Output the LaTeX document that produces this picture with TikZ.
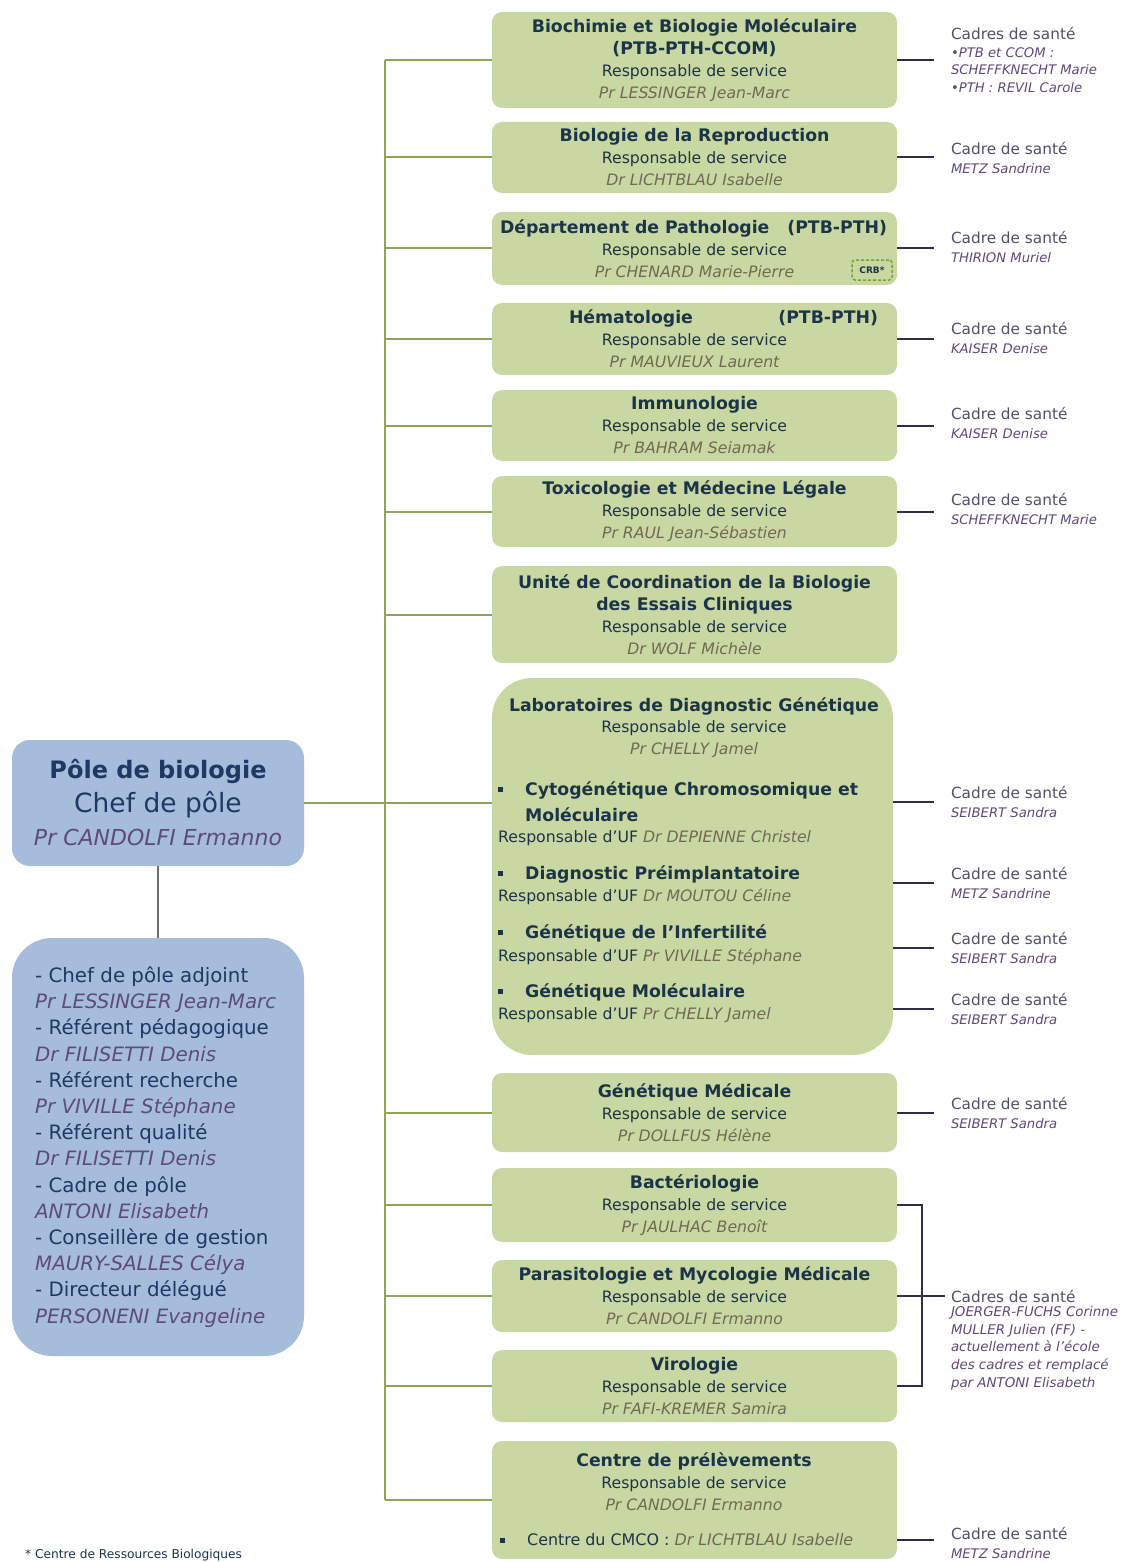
\documentclass[tikz,border=0pt]{standalone}
\usepackage{fontspec}
\setmainfont{DejaVu Sans}
\definecolor{gfill}{RGB}{201,216,162}
\definecolor{bfill}{RGB}{165,188,219}
\definecolor{ttlc}{RGB}{28,52,72}
\definecolor{gname}{RGB}{112,106,84}
\definecolor{bname}{RGB}{96,74,123}
\definecolor{navyc}{RGB}{31,56,100}
\definecolor{trunkc}{RGB}{140,165,90}
\definecolor{rconc}{RGB}{46,46,72}
\definecolor{cadc}{RGB}{80,80,105}
\definecolor{cadn}{RGB}{95,73,122}
\definecolor{crbc}{RGB}{120,165,50}
\definecolor{vlinec}{RGB}{110,110,110}
\newcommand{\gT}[1]{{\fontsize{17.3}{22}\selectfont\bfseries #1}}
\newcommand{\gN}[1]{{\color{gname}\itshape #1}}
\newcommand{\gR}{Responsable de service}
\newcommand{\cN}[1]{{\fontsize{13.2}{17.7}\selectfont\itshape\color{cadn}#1}}
\newcommand{\bN}[1]{{\color{bname}\itshape #1}}
\newcommand{\sqb}{\raisebox{3pt}{\rule{5pt}{5pt}}}
\tikzset{
  gbox/.style={fill=gfill, rounded corners=10pt, minimum width=405pt, align=center, inner sep=0pt, text=ttlc, font=\fontsize{15.7}{22}\selectfont},
  bbox/.style={fill=bfill, rounded corners=18pt, minimum width=292pt, align=center, inner sep=0pt},
  gtxt/.style={align=center, inner sep=0pt, text=ttlc, font=\fontsize{15.7}{22}\selectfont},
  uf/.style={anchor=west, inner sep=0pt, text=ttlc, font=\fontsize{17.3}{22}\selectfont\bfseries},
  ufr/.style={anchor=west, inner sep=0pt, text=ttlc, font=\fontsize{15.7}{18}\selectfont},
  cadre/.style={anchor=west, align=left, inner sep=0pt, outer xsep=17pt, text=cadc, font=\fontsize{15.3}{18.5}\selectfont},
  trunk/.style={draw=trunkc, line width=2pt},
  rconn/.style={draw=rconc, line width=2pt},
}
\begin{document}
\begin{tikzpicture}[x=1pt,y=-1pt]
\fill[white] (0,0) rectangle (1122,1562);
\useasboundingbox (0,0) rectangle (1122,1562);

% ---------- left boxes ----------
\node[bbox, minimum height=126pt, font=\fontsize{24}{33.5}\selectfont] (pole) at (158,803)
  {{\bfseries\color{navyc}Pôle de biologie}\\
   {\fontsize{26.5}{33.5}\selectfont\color{navyc}Chef de pôle}\\
   {\fontsize{22}{33.5}\selectfont\bN{Pr CANDOLFI Ermanno}}};
\node[bbox, minimum height=418pt, rounded corners=40pt] (adj) at (158,1147) {};
\node[anchor=west, align=left, inner sep=0pt, text=navyc, font=\fontsize{19.8}{26.2}\selectfont] (adjt) at (35,1147)
  {- Chef de pôle adjoint\\ \bN{Pr LESSINGER Jean-Marc}\\
   - Référent pédagogique\\ \bN{Dr FILISETTI Denis}\\
   - Référent recherche\\ \bN{Pr VIVILLE Stéphane}\\
   - Référent qualité\\ \bN{Dr FILISETTI Denis}\\
   - Cadre de pôle\\ \bN{ANTONI Elisabeth}\\
   - Conseillère de gestion\\ \bN{MAURY-SALLES Célya}\\
   - Directeur délégué\\ \bN{PERSONENI Evangeline}};

% ---------- green boxes ----------
\node[gbox, minimum height=96pt] (b1) at (694.5,60)
  {\gT{Biochimie et Biologie Moléculaire}\\\gT{(PTB-PTH-CCOM)}\\\gR\\\gN{Pr LESSINGER Jean-Marc}};
\node[gbox, minimum height=71pt] (b2) at (694.5,157.5)
  {\gT{Biologie de la Reproduction}\\\gR\\\gN{Dr LICHTBLAU Isabelle}};
\node[gbox, minimum height=73pt] (b3) at (694.5,248.5)
  {\gT{\makebox[390pt][s]{\hspace{0.5pt}Département de Pathologie\hfill(PTB-PTH)\hspace{2.5pt}}}\\\gR\\\gN{Pr CHENARD Marie-Pierre}};
\node[draw=crbc, dashed, dash pattern=on 3pt off 2pt, line width=1.5pt, rounded corners=3pt, minimum width=40pt, minimum height=20pt, inner sep=0pt, font=\fontsize{9}{10}\selectfont\bfseries, text=ttlc] (crb) at (872,270) {CRB*};
\node[gbox, minimum height=72pt] (b4) at (694.5,339)
  {\gT{\makebox[390pt][s]{\hspace{69.5pt}Hématologie\hfill(PTB-PTH)\hspace{11.5pt}}}\\\gR\\\gN{Pr MAUVIEUX Laurent}};
\node[gbox, minimum height=71pt] (b5) at (694.5,425.5)
  {\gT{Immunologie}\\\gR\\\gN{Pr BAHRAM Seiamak}};
\node[gbox, minimum height=71pt] (b6) at (694.5,511.5)
  {\gT{Toxicologie et Médecine Légale}\\\gR\\\gN{Pr RAUL Jean-Sébastien}};
\node[gbox, minimum height=97pt] (b7) at (694.5,614.5)
  {\gT{Unité de Coordination de la Biologie}\\\gT{des Essais Cliniques}\\\gR\\\gN{Dr WOLF Michèle}};

% Laboratoires
\node[gbox, minimum width=401pt, minimum height=377pt, rounded corners=40pt] (labs) at (692.5,866.5) {};
\node[gtxt] (lt) at (694,706) {\gT{Laboratoires de Diagnostic Génétique}};
\node[gtxt] (lr) at (694,739.5) {\gR\\\gN{Pr CHELLY Jamel}};
\node[uf] (u1a) at (498,790) {\sqb\hspace{22pt}Cytogénétique Chromosomique et};
\node[uf] (u1b) at (525,815) {Moléculaire};
\node[ufr] (u1r) at (498,838) {Responsable d'UF \gN{Dr DEPIENNE Christel}};
\node[uf] (u2a) at (498,874) {\sqb\hspace{22pt}Diagnostic Préimplantatoire};
\node[ufr] (u2r) at (498,897) {Responsable d'UF \gN{Dr MOUTOU Céline}};
\node[uf] (u3a) at (498,933) {\sqb\hspace{22pt}Génétique de l'Infertilité};
\node[ufr] (u3r) at (498,957) {Responsable d'UF \gN{Pr VIVILLE Stéphane}};
\node[uf] (u4a) at (498,992) {\sqb\hspace{22pt}Génétique Moléculaire};
\node[ufr] (u4r) at (498,1015) {Responsable d'UF \gN{Pr CHELLY Jamel}};

\node[gbox, minimum height=79pt] (b9) at (694.5,1112.5)
  {\gT{Génétique Médicale}\\\gR\\\gN{Pr DOLLFUS Hélène}};
\node[gbox, minimum height=74pt] (b10) at (694.5,1205)
  {\gT{Bactériologie}\\\gR\\\gN{Pr JAULHAC Benoît}};
\node[gbox, minimum height=72pt] (b11) at (694.5,1296)
  {\gT{Parasitologie et Mycologie Médicale}\\\gR\\\gN{Pr CANDOLFI Ermanno}};
\node[gbox, minimum height=72pt] (b12) at (694.5,1386)
  {\gT{Virologie}\\\gR\\\gN{Pr FAFI-KREMER Samira}};
\node[gbox, minimum height=118pt] (b13) at (694.5,1500) {};
\node[gtxt] (b13t) at (694,1481.5) {\gT{Centre de prélèvements}\\\gR\\\gN{Pr CANDOLFI Ermanno}};
\node[anchor=west, inner sep=0pt, text=ttlc, font=\fontsize{15.9}{20}\selectfont] (b13u) at (500,1540)
  {\sqb\hspace{22pt}Centre du CMCO : \gN{Dr LICHTBLAU Isabelle}};

% ---------- cadres ----------
\node[cadre, font=\fontsize{15.3}{17.7}\selectfont] (c1) at (934,60)
  {Cadres de santé\\\cN{\textbullet PTB et CCOM :}\\\cN{SCHEFFKNECHT Marie}\\\cN{\textbullet PTH : REVIL Carole}};
\node[cadre] (c2) at (934,158) {Cadre de santé\\\cN{METZ Sandrine}};
\node[cadre] (c3) at (934,247) {Cadre de santé\\\cN{THIRION Muriel}};
\node[cadre] (c4) at (934,338) {Cadre de santé\\\cN{KAISER Denise}};
\node[cadre] (c5) at (934,423) {Cadre de santé\\\cN{KAISER Denise}};
\node[cadre] (c6) at (934,509) {Cadre de santé\\\cN{SCHEFFKNECHT Marie}};
\node[cadre] (cu1) at (934,802) {Cadre de santé\\\cN{SEIBERT Sandra}};
\node[cadre] (cu2) at (934,883) {Cadre de santé\\\cN{METZ Sandrine}};
\node[cadre] (cu3) at (934,948) {Cadre de santé\\\cN{SEIBERT Sandra}};
\node[cadre] (cu4) at (934,1009) {Cadre de santé\\\cN{SEIBERT Sandra}};
\node[cadre] (c9) at (934,1113) {Cadre de santé\\\cN{SEIBERT Sandra}};
\node[cadre, outer xsep=6pt] (c11) at (945,1296) {Cadres de santé};
\node[cadre, anchor=north west, outer xsep=0pt, font=\fontsize{13.4}{17.7}\selectfont\itshape, text=cadn] (c11b) at (951,1306)
  {JOERGER-FUCHS Corinne\\MULLER Julien (FF) -\\actuellement à l'école\\des cadres et remplacé\\par ANTONI Elisabeth};
\node[cadre] (c13) at (934,1543) {Cadre de santé\\\cN{METZ Sandrine}};

\node[anchor=west, inner sep=0pt, text=ttlc, font=\fontsize{12.2}{13}\selectfont] (fn) at (25,1555) {* Centre de Ressources Biologiques};

% ---------- connectors ----------
\coordinate (tx) at (385,0);
\coordinate (bkx) at (922,0);
\draw[trunk] (tx |- b1.west) -- (tx |- b13.west);
\foreach \b in {b1,b2,b3,b4,b5,b6,b7,b9,b10,b11,b12,b13}
  \draw[trunk] (tx |- \b.west) -- (\b.west);
\draw[trunk] (pole.east) -- (labs.west |- pole.east);
\draw[draw=vlinec, line width=1.5pt] (pole.south) -- (adj.north);

\foreach \b/\c in {b1/c1,b2/c2,b3/c3,b4/c4,b5/c5,b6/c6,b9/c9}
  \draw[rconn] (\b.east) -- (\b.east -| \c.west);
\foreach \c in {cu1,cu2,cu3,cu4}
  \draw[rconn] (labs.east |- \c.west) -- (\c.west);
\draw[rconn] (b13.east |- b13u.west) -- (c13.west |- b13u.west);
\draw[rconn] (b10.east) -- (bkx |- b10.east) -- (bkx |- b12.east) -- (b12.east);
\draw[rconn] (b11.east) -- (b11.east -| c11.west);
\end{tikzpicture}
\end{document}
